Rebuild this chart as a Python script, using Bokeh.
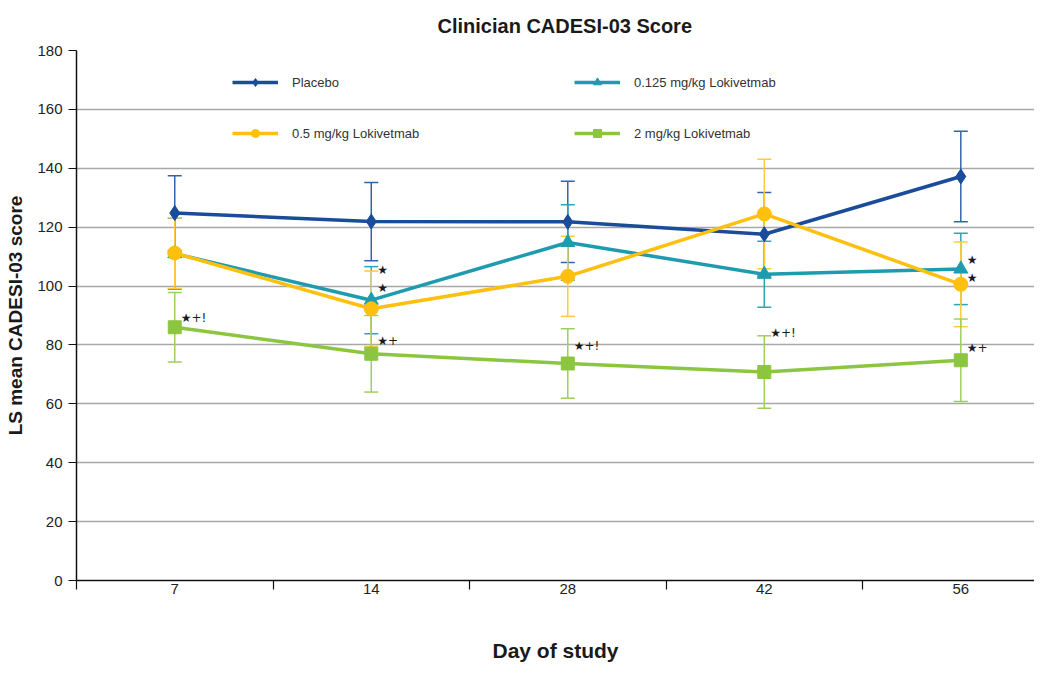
from bokeh.plotting import figure
from bokeh.models import (ColumnDataSource, FixedTicker, Legend, LegendItem,
                          Whisker, TeeHead, Range1d)
from bokeh.core.properties import value
from bokeh.embed import file_html
from bokeh.resources import INLINE

# ---------------- data ----------------
days = ["7", "14", "28", "42", "56"]

placebo = [124.8, 121.9, 121.8, 117.6, 137.2]
placebo_se = [12.7, 13.3, 13.8, 14.2, 15.4]

mg0125 = [111.0, 95.2, 114.8, 104.0, 105.8]
mg0125_se = [12.1, 11.4, 12.8, 11.2, 12.1]

mg05 = [111.2, 92.3, 103.3, 124.5, 100.6]
mg05_se = [12.0, 12.8, 13.6, 18.6, 14.4]

mg2 = [86.0, 77.0, 73.7, 70.8, 74.8]
mg2_se = [11.8, 13.0, 11.8, 12.3, 14.0]

series_names = ["Placebo", "0.125 mg/kg Lokivetmab", "0.5 mg/kg Lokivetmab", "2 mg/kg Lokivetmab"]

annot_day = ["7", "14", "14", "14", "28", "42", "56", "56", "56"]
annot_y = [89.0, 105.6, 99.2, 81.2, 79.5, 84.2, 109.0, 102.6, 78.8]
annot_text = ["★+!", "★", "★", "★+", "★+!", "★+!", "★", "★", "★+"]

# ---------------- styling ----------------
FONT = "Liberation Sans"
colors = ["#1a4c9a", "#1f9bb0", "#fdc00f", "#8cc640"]
err_colors = ["#3165b0", "#2aa6bb", "#ffcb3a", "#9dd05a"]
markers = ["diamond", "triangle", "circle", "square"]
msizes = [15, 14, 14, 13]

xi = list(range(len(days)))

p = figure(width=1034, height=668, output_backend="svg", toolbar_location=None,
           x_range=Range1d(-0.5, 4.375), y_range=Range1d(0, 180),
           min_border_left=76, min_border_right=0, min_border_top=50,
           min_border_bottom=88)
p.outline_line_color = None
p.background_fill_color = "white"

p.title.text = "Clinician CADESI-03 Score"
p.title.text_font = FONT
p.title.text_font_size = "20px"
p.title.text_font_style = "bold"
p.title.text_color = "#1a1a1a"
p.title.align = "left"
p.title.offset = 361
p.title.standoff = 23
p.title.vertical_align = "top"
p.title.text_line_height = 0.8

# grid
p.xgrid.grid_line_color = None
p.ygrid.grid_line_color = "#a8a8a8"
p.ygrid.grid_line_width = 1.6
p.ygrid.ticker = FixedTicker(ticks=list(range(0, 181, 20)))

# y axis
p.yaxis.ticker = FixedTicker(ticks=list(range(0, 181, 20)))
p.yaxis.axis_label = "LS mean CADESI-03 score"
p.yaxis.axis_label_text_font = FONT
p.yaxis.axis_label_text_font_size = "19px"
p.yaxis.axis_label_text_font_style = "bold"
p.yaxis.axis_label_text_color = "#1a1a1a"
p.yaxis.axis_label_standoff = 8
p.yaxis.major_label_text_font = FONT
p.yaxis.major_label_text_font_size = "15px"
p.yaxis.major_label_text_color = "#222222"
p.yaxis.major_label_standoff = 6
p.yaxis.major_tick_out = 8
p.yaxis.major_tick_in = 0
p.yaxis.minor_tick_line_color = None
p.yaxis.axis_line_color = "#111111"
p.yaxis.axis_line_width = 1.5
p.yaxis.major_tick_line_color = "#111111"
p.yaxis.major_tick_line_width = 1.2

# x axis
p.xaxis.ticker = FixedTicker(ticks=xi, minor_ticks=[i + 0.5 for i in range(-1, len(days) - 1)])
p.xaxis.major_label_overrides = {i: d for i, d in zip(xi, days)}
p.xaxis.axis_label = "Day of study"
p.xaxis.axis_label_text_font = FONT
p.xaxis.axis_label_text_font_size = "21px"
p.xaxis.axis_label_text_font_style = "bold"
p.xaxis.axis_label_text_color = "#1a1a1a"
p.xaxis.axis_label_standoff = 42
p.xaxis.major_label_text_font = FONT
p.xaxis.major_label_text_font_size = "15px"
p.xaxis.major_label_text_color = "#222222"
p.xaxis.major_label_standoff = -6
p.xaxis.major_tick_line_color = None
p.xaxis.major_tick_out = 0
p.xaxis.major_tick_in = 0
p.xaxis.minor_tick_out = 9
p.xaxis.minor_tick_in = 0
p.xaxis.minor_tick_line_color = "#111111"
p.xaxis.minor_tick_line_width = 1.2
p.xaxis.axis_line_color = "#111111"
p.xaxis.axis_line_width = 1.5

# series
all_vals = [placebo, mg0125, mg05, mg2]
all_se = [placebo_se, mg0125_se, mg05_se, mg2_se]
items = []
for k in range(4):
    vals, se = all_vals[k], all_se[k]
    src = ColumnDataSource(dict(x=xi, y=vals,
                                upper=[v + s for v, s in zip(vals, se)],
                                lower=[v - s for v, s in zip(vals, se)]))
    w = Whisker(base="x", upper="upper", lower="lower", source=src,
                dimension="height", line_color=err_colors[k], line_width=1.5,
                upper_head=TeeHead(size=14, line_color=err_colors[k], line_width=1.5),
                lower_head=TeeHead(size=14, line_color=err_colors[k], line_width=1.5),
                level="underlay")
    p.add_layout(w)
    lr = p.line("x", "y", source=src, line_color=colors[k], line_width=3.5)
    sr = p.scatter("x", "y", source=src, marker=markers[k], size=msizes[k],
                   fill_color=colors[k], line_color=colors[k])
    items.append(LegendItem(label=series_names[k], renderers=[lr, sr]))

# annotations
asrc = ColumnDataSource(dict(x=[days.index(d) for d in annot_day], y=annot_y, t=annot_text))
p.text("x", "y", text="t", source=asrc, x_offset=6, text_align="left",
       text_baseline="middle", text_font=value("DejaVu Sans"), text_font_size="12px",
       text_color="#1a1a1a")

# legends (two columns)
def make_legend(its, loc):
    return Legend(items=its, location=loc, orientation="vertical",
                  glyph_width=46, glyph_height=20, label_standoff=14, spacing=31,
                  padding=0, margin=0, border_line_color=None,
                  background_fill_alpha=0, label_text_font=FONT,
                  label_text_font_size="13px", label_text_color="#333333")

p.add_layout(make_legend([items[0], items[2]], (156, 437)), "center")
p.add_layout(make_legend([items[1], items[3]], (498, 437)), "center")

open("out.html", "w").write(file_html(p, INLINE))
